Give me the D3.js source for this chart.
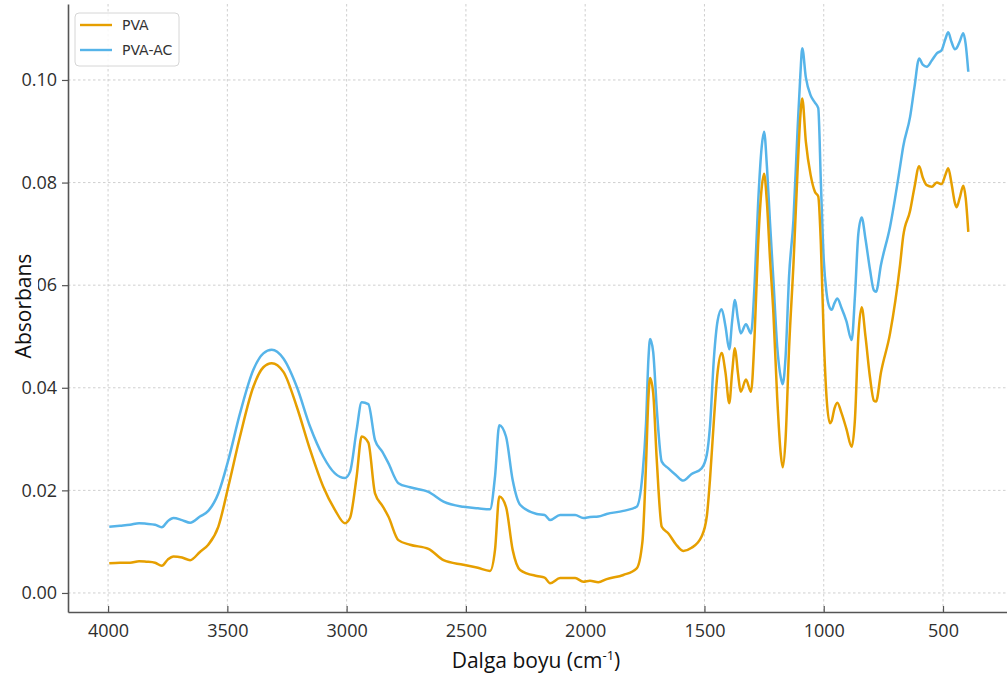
<!DOCTYPE html>
<html>
<head>
<meta charset="utf-8">
<script src="https://cdn.jsdelivr.net/npm/d3@7"></script>
<style>
  html, body { margin: 0; padding: 0; background: #fff; }
  svg { display: block; }
</style>
</head>
<body>
<svg id="chart" width="1007" height="684"></svg>
<script>
// FTIR spectra: wavenumber (cm-1) and absorbance for the two films
const wavenumber = [
  3995, 3950, 3908, 3870, 3840, 3803, 3775, 3750, 3726, 3690, 3656, 3615, 3580, 3538, 3496,
  3447, 3391, 3349, 3314, 3265, 3209, 3153, 3098, 3049, 3007, 2986, 2958, 2937, 2909, 2881,
  2850, 2825, 2783, 2734, 2657, 2594, 2511, 2450, 2399, 2378, 2360, 2332, 2304, 2273, 2203,
  2170, 2147, 2105, 2042, 2008, 1980, 1945, 1910, 1840, 1784, 1760, 1745, 1735, 1728, 1715,
  1700, 1679, 1651, 1620, 1589, 1554, 1512, 1490, 1477, 1460, 1445, 1428, 1412, 1396, 1384,
  1372, 1360, 1348, 1326, 1305, 1290, 1275, 1260, 1250, 1238, 1225, 1211, 1195, 1180, 1172,
  1160, 1145, 1127, 1110, 1098, 1090, 1075, 1055, 1037, 1023, 1012, 1000, 988, 974, 967,
  955, 943, 925, 905, 883, 869, 855, 841, 825, 806, 790, 781, 760, 722, 680,
  667, 638, 620, 600, 585, 568, 547, 526, 506, 490, 478, 465, 450, 443, 430,
  415, 405, 394
];

const pva = [
  0.0058, 0.0059, 0.0059, 0.0062, 0.0061, 0.0059, 0.0053, 0.0065, 0.0071, 0.0069, 0.0064, 0.0080, 0.0094, 0.0129, 0.0207,
  0.0305, 0.0402, 0.0440, 0.0448, 0.0431, 0.0363, 0.0279, 0.0207, 0.0162, 0.0136, 0.0146, 0.0227, 0.0305, 0.0293, 0.0194,
  0.0170, 0.0149, 0.0103, 0.0094, 0.0086, 0.0064, 0.0055, 0.0049, 0.0043, 0.0084, 0.0188, 0.0168, 0.0084, 0.0045, 0.0033,
  0.0030, 0.0019, 0.0029, 0.0029, 0.0022, 0.0024, 0.0021, 0.0027, 0.0035, 0.0048, 0.0100, 0.0250, 0.0380, 0.0419, 0.0390,
  0.0260, 0.0129, 0.0116, 0.0095, 0.0082, 0.0088, 0.0110, 0.0150, 0.0220, 0.0340, 0.0430, 0.0468, 0.0430, 0.0370, 0.0430,
  0.0477, 0.0430, 0.0392, 0.0416, 0.0392, 0.0500, 0.0680, 0.0790, 0.0817, 0.0760, 0.0650, 0.0545, 0.0380, 0.0270, 0.0245,
  0.0300, 0.0480, 0.0640, 0.0820, 0.0930, 0.0964, 0.0880, 0.0815, 0.0782, 0.0773, 0.0680, 0.0500, 0.0380, 0.0331, 0.0335,
  0.0360, 0.0371, 0.0350, 0.0320, 0.0285, 0.0340, 0.0500, 0.0557, 0.0500, 0.0420, 0.0375, 0.0373, 0.0430, 0.0506, 0.0640,
  0.0695, 0.0745, 0.0790, 0.0832, 0.0810, 0.0795, 0.0792, 0.0800, 0.0797, 0.0815, 0.0828, 0.0800, 0.0760, 0.0752, 0.0770,
  0.0794, 0.0770, 0.0704
];

const pvaAc = [
  0.0129, 0.0131, 0.0133, 0.0136, 0.0135, 0.0133, 0.0128, 0.0140, 0.0146, 0.0142, 0.0137, 0.0149, 0.0160, 0.0194, 0.0259,
  0.0350, 0.0435, 0.0467, 0.0474, 0.0457, 0.0402, 0.0324, 0.0266, 0.0233, 0.0224, 0.0236, 0.0318, 0.0372, 0.0368, 0.0298,
  0.0275, 0.0253, 0.0214, 0.0206, 0.0197, 0.0178, 0.0168, 0.0165, 0.0163, 0.0227, 0.0327, 0.0305, 0.0220, 0.0172, 0.0154,
  0.0152, 0.0142, 0.0152, 0.0152, 0.0146, 0.0148, 0.0149, 0.0154, 0.0160, 0.0168, 0.0230, 0.0330, 0.0455, 0.0495, 0.0470,
  0.0360, 0.0256, 0.0243, 0.0230, 0.0219, 0.0232, 0.0243, 0.0270, 0.0324, 0.0460, 0.0530, 0.0553, 0.0520, 0.0475, 0.0530,
  0.0571, 0.0535, 0.0506, 0.0524, 0.0506, 0.0600, 0.0760, 0.0870, 0.0899, 0.0830, 0.0720, 0.0610, 0.0480, 0.0420, 0.0407,
  0.0460, 0.0620, 0.0727, 0.0900, 0.1010, 0.1062, 0.1005, 0.0970, 0.0956, 0.0945, 0.0800, 0.0650, 0.0584, 0.0555, 0.0552,
  0.0565, 0.0574, 0.0555, 0.0530, 0.0493, 0.0580, 0.0700, 0.0732, 0.0690, 0.0630, 0.0590, 0.0587, 0.0640, 0.0714, 0.0831,
  0.0870, 0.0928, 0.0985, 0.1042, 0.1030, 0.1026, 0.1038, 0.1052, 0.1058, 0.1080, 0.1093, 0.1075, 0.1060, 0.1062, 0.1075,
  0.1091, 0.1070, 0.1016
];

const seriesNames = ["PVA", "PVA-AC"];
const xTicks = [4000, 3500, 3000, 2500, 2000, 1500, 1000, 500];
const yTicks = [0.00, 0.02, 0.04, 0.06, 0.08, 0.10];

const colors = { "PVA": "#E69F00", "PVA-AC": "#56B4E9" };

const svg = d3.select("#chart");
const plot = { left: 68, right: 1011, top: 4, bottom: 612 };

// wavenumber axis runs high to low, as usual for IR spectra
const x = d3.scaleLinear().domain([4168, 215]).range([plot.left, plot.right]);
const y = d3.scaleLinear().domain([-0.00371, 0.11481]).range([plot.bottom, plot.top]);

const gridColor = "#cfcfcf";
const axisColor = "#555";
const textColor = "#2e2e2e";
const tickFont = "'Open Sans', sans-serif";

// grid
const grid = svg.append("g");
grid.selectAll("line.vx").data(xTicks).join("line")
  .attr("x1", d => x(d)).attr("x2", d => x(d))
  .attr("y1", plot.top).attr("y2", plot.bottom)
  .attr("stroke", gridColor).attr("stroke-width", 1).attr("stroke-dasharray", "2.5,2.5");
grid.selectAll("line.hy").data(yTicks).join("line")
  .attr("x1", plot.left).attr("x2", plot.right)
  .attr("y1", d => y(d)).attr("y2", d => y(d))
  .attr("stroke", gridColor).attr("stroke-width", 1).attr("stroke-dasharray", "2.5,2.5");

// spectra
const rows = wavenumber.map((w, i) => ({ w, a: pva[i], b: pvaAc[i] }));
svg.append("clipPath").attr("id", "plotclip").append("rect")
  .attr("x", plot.left).attr("y", plot.top)
  .attr("width", plot.right - plot.left).attr("height", plot.bottom - plot.top);

const lineA = d3.line().x(d => x(d.w)).y(d => y(d.a)).curve(d3.curveMonotoneX);
const lineB = d3.line().x(d => x(d.w)).y(d => y(d.b)).curve(d3.curveMonotoneX);

const lines = svg.append("g").attr("clip-path", "url(#plotclip)");
lines.append("path").datum(rows).attr("d", lineB)
  .attr("fill", "none").attr("stroke", colors["PVA-AC"]).attr("stroke-width", 2.5)
  .attr("stroke-linejoin", "round");
lines.append("path").datum(rows).attr("d", lineA)
  .attr("fill", "none").attr("stroke", colors["PVA"]).attr("stroke-width", 2.5)
  .attr("stroke-linejoin", "round");

// x axis (ticks point into the plot)
const xAxis = svg.append("g").attr("transform", `translate(0,${plot.bottom})`)
  .call(d3.axisBottom(x).tickValues(xTicks).tickSizeInner(-6).tickSizeOuter(0).tickPadding(12)
    .tickFormat(d3.format("d")));
xAxis.select(".domain").attr("stroke", axisColor).attr("stroke-width", 1.6);
xAxis.selectAll(".tick line").attr("stroke", axisColor).attr("stroke-width", 1.2);
xAxis.selectAll(".tick text").attr("fill", textColor)
  .attr("font-family", tickFont).attr("font-size", 18);

// y axis
const yAxis = svg.append("g").attr("transform", `translate(${plot.left},0)`)
  .call(d3.axisLeft(y).tickValues(yTicks).tickSizeInner(6).tickSizeOuter(0).tickPadding(5)
    .tickFormat(d3.format(".2f")));
yAxis.select(".domain").attr("stroke", axisColor).attr("stroke-width", 1.6);
yAxis.selectAll(".tick line").attr("stroke", axisColor).attr("stroke-width", 1.2);
yAxis.selectAll(".tick text").attr("fill", textColor)
  .attr("font-family", tickFont).attr("font-size", 18);

// y axis title on a white plate
svg.append("rect").attr("x", 9).attr("y", 240).attr("width", 29).attr("height", 132).attr("fill", "#fff");
svg.append("text")
  .attr("transform", `translate(31,306) rotate(-90)`)
  .attr("text-anchor", "middle")
  .attr("font-family", "'Open Sans', sans-serif").attr("font-size", 21)
  .attr("fill", "#111")
  .text("Absorbans");

// x axis title with superscript unit
const xt = svg.append("text")
  .attr("x", 536).attr("y", 668)
  .attr("text-anchor", "middle")
  .attr("font-family", "'Open Sans', sans-serif").attr("font-size", 21)
  .attr("fill", "#111");
xt.append("tspan").text("Dalga boyu (cm");
xt.append("tspan").attr("font-size", 13).attr("dy", -8).text("-1");
xt.append("tspan").attr("dy", 8).text(")");

// legend
const lg = svg.append("g").attr("transform", "translate(75,13)");
lg.append("rect").attr("width", 104).attr("height", 53).attr("rx", 4)
  .attr("fill", "#fff").attr("fill-opacity", 0.85)
  .attr("stroke", "#d6d6d6").attr("stroke-width", 1);
seriesNames.forEach((name, i) => {
  const yy = 12 + i * 25;
  lg.append("line").attr("x1", 5).attr("x2", 37).attr("y1", yy).attr("y2", yy)
    .attr("stroke", colors[name]).attr("stroke-width", 2.4);
  lg.append("text").attr("x", 47).attr("y", yy + 5)
    .attr("font-family", "'DejaVu Sans', sans-serif").attr("font-size", 14)
    .attr("fill", "#333").text(name);
});
</script>
</body>
</html>
